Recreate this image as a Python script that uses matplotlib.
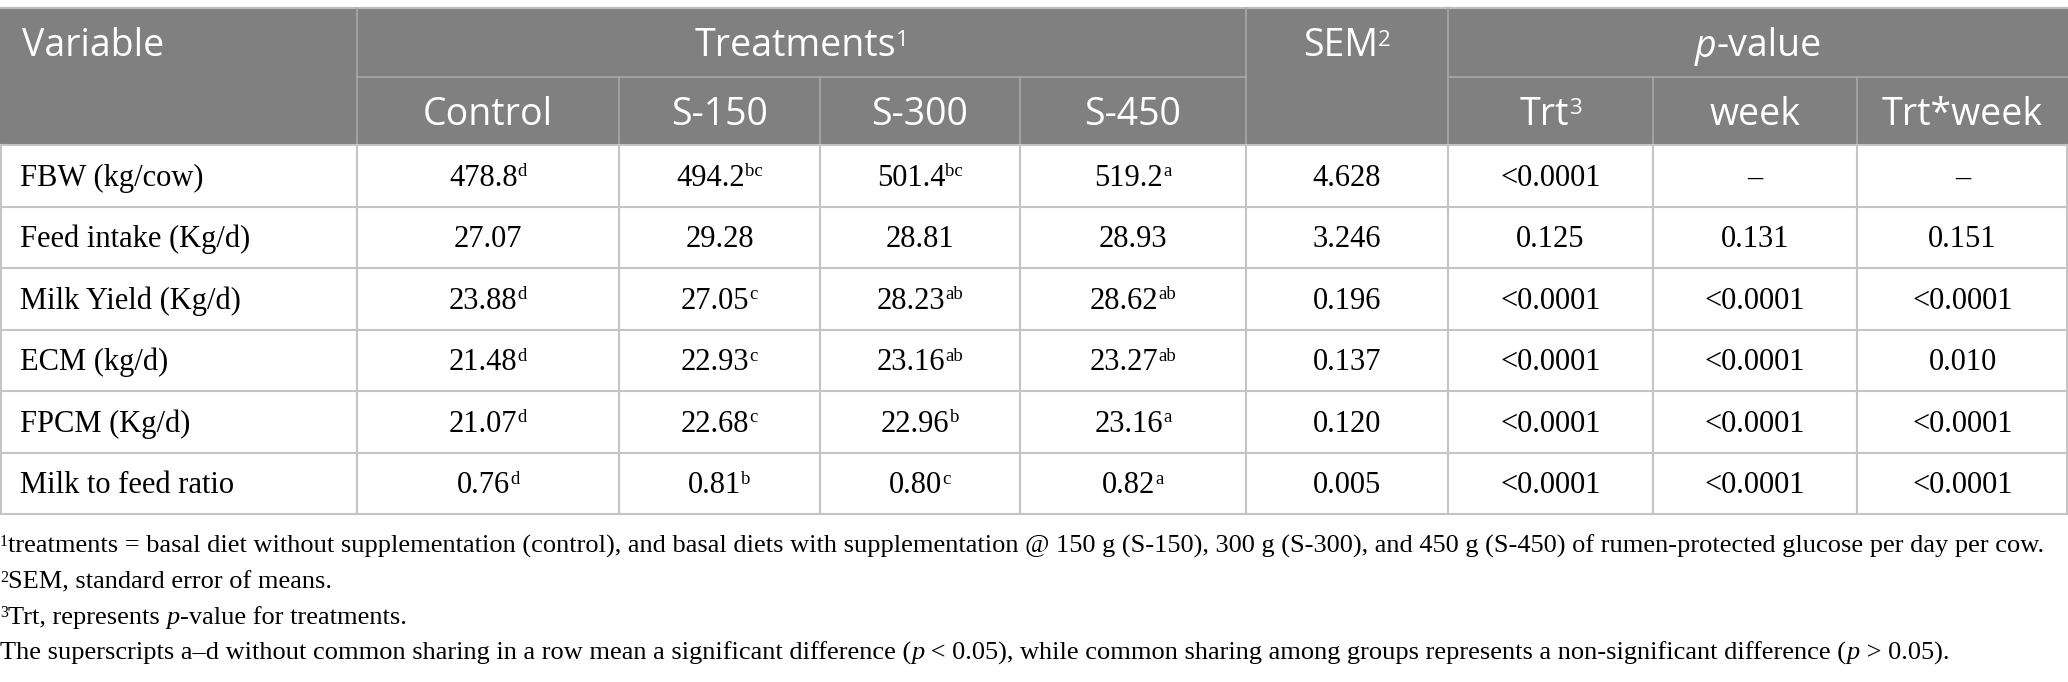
import matplotlib
matplotlib.use('Agg')
import matplotlib.pyplot as plt
from matplotlib.patches import Rectangle
from matplotlib.font_manager import FontProperties

# ---------------- data ----------------
variables = ["FBW (kg/cow)", "Feed intake (Kg/d)", "Milk Yield (Kg/d)",
             "ECM (kg/d)", "FPCM (Kg/d)", "Milk to feed ratio"]
treatments = ["Control", "S-150", "S-300", "S-450"]
means = [["478.8", "494.2", "501.4", "519.2"],
         ["27.07", "29.28", "28.81", "28.93"],
         ["23.88", "27.05", "28.23", "28.62"],
         ["21.48", "22.93", "23.16", "23.27"],
         ["21.07", "22.68", "22.96", "23.16"],
         ["0.76", "0.81", "0.80", "0.82"]]
letters = [["d", "bc", "bc", "a"],
           ["", "", "", ""],
           ["d", "c", "ab", "ab"],
           ["d", "c", "ab", "ab"],
           ["d", "c", "b", "a"],
           ["d", "b", "c", "a"]]
sem = ["4.628", "3.246", "0.196", "0.137", "0.120", "0.005"]
p_trt = ["<0.0001", "0.125", "<0.0001", "<0.0001", "<0.0001", "<0.0001"]
p_week = ["\u2013", "0.131", "<0.0001", "<0.0001", "<0.0001", "<0.0001"]
p_int = ["\u2013", "0.151", "<0.0001", "0.010", "<0.0001", "<0.0001"]
p_headers = ["Trt", "week", "Trt*week"]
p_header_sup = ["3", "", ""]

footnotes = [
    [("1", "sup"), ("treatments = basal diet without supplementation (control), and basal diets with supplementation @ 150 g (S-150), 300 g (S-300), and 450 g (S-450) of rumen-protected glucose per day per cow.", "rm")],
    [("2", "sup"), ("SEM, standard error of means.", "rm")],
    [("3", "sup"), ("Trt, represents ", "rm"), ("p", "it"), ("-value for treatments.", "rm")],
    [("The superscripts a\u2013d without common sharing in a row mean a significant difference (", "rm"), ("p", "it"),
     (" < 0.05), while common sharing among groups represents a non-significant difference (", "rm"), ("p", "it"), (" > 0.05).", "rm")],
]

# ---------------- layout ----------------
W, H = 2068, 682
col_widths = [357, 262, 201, 200, 226, 202, 205, 204, 211]
table_top = 8
h1, h2 = 69, 68
row_h = 61.5
header_color = "#808080"
grid_color = "#c4c4c4"
head_line = "#a8a8a8"

fig = plt.figure(figsize=(W / 100, H / 100), dpi=100)
ax = fig.add_axes([0, 0, 1, 1])
ax.set_xlim(0, W)
ax.set_ylim(H, 0)
ax.axis('off')
renderer = fig.canvas.get_renderer()

HEAD = FontProperties(family="Open Sans", size=27)
HEAD_IT = FontProperties(family="Open Sans", size=27, style="italic")
HEAD_SUP = FontProperties(family="Open Sans", size=16)
BODY = FontProperties(family="Liberation Serif", size=22)
BODY_SUP = FontProperties(family="Liberation Serif", size=13.5)
FOOT = FontProperties(family="Liberation Serif", size=19)
FOOT_IT = FontProperties(family="Liberation Serif", size=19, style="italic")
FOOT_SUP = FontProperties(family="Liberation Serif", size=11.5)


def width_of(s, fp):
    t = ax.text(0, 0, "|" + s + "|", fontproperties=fp)
    w1 = t.get_window_extent(renderer).width
    t.remove()
    t = ax.text(0, 0, "||", fontproperties=fp)
    w0 = t.get_window_extent(renderer).width
    t.remove()
    return w1 - w0


def draw_rich(x, y, segs, ha="left", color="black"):
    widths = [width_of(s, fp) for s, fp, r in segs]
    total = sum(widths)
    if ha == "center":
        x = x - total / 2
    for (s, fp, rise), w in zip(segs, widths):
        ax.text(x, y - rise, s, fontproperties=fp, color=color, va="baseline", ha="left")
        x += w


xs = [0]
for w in col_widths:
    xs.append(xs[-1] + w)
centers = [(xs[i] + xs[i + 1]) / 2 for i in range(len(col_widths))]

head_bottom = table_top + h1 + h2
table_bottom = head_bottom + row_h * len(variables)

# header background
ax.add_patch(Rectangle((0, table_top), W, h1 + h2, facecolor=header_color, edgecolor="none"))
ax.plot([0, W], [table_top, table_top], color="#bdbdbd", lw=1.5)

# header lines
mid = table_top + h1
ax.plot([xs[1], xs[5]], [mid, mid], color=head_line, lw=1.2)
ax.plot([xs[6], W], [mid, mid], color=head_line, lw=1.2)
for i in [1, 5, 6]:
    ax.plot([xs[i], xs[i]], [table_top, head_bottom], color=head_line, lw=1.2)
for i in [2, 3, 4, 7, 8]:
    ax.plot([xs[i], xs[i]], [mid, head_bottom], color=head_line, lw=1.2)

white = "white"
y1 = table_top + h1 / 2 + 14
y2 = mid + h2 / 2 + 14
draw_rich(22, y1, [("Variable", HEAD, 0)], color=white)
draw_rich((xs[1] + xs[5]) / 2, y1, [("Treatments", HEAD, 0), ("1", HEAD_SUP, 11)], ha="center", color=white)
draw_rich(centers[5], y1, [("SEM", HEAD, 0), ("2", HEAD_SUP, 11)], ha="center", color=white)
draw_rich((xs[6] + W) / 2, y1, [("p", HEAD_IT, 0), ("-value", HEAD, 0)], ha="center", color=white)
for j, name in enumerate(treatments):
    draw_rich(centers[1 + j], y2, [(name, HEAD, 0)], ha="center", color=white)
for j, name in enumerate(p_headers):
    segs = [(name, HEAD, 0)]
    if p_header_sup[j]:
        segs.append((p_header_sup[j], HEAD_SUP, 11))
    draw_rich(centers[6 + j], y2, segs, ha="center", color=white)

# body grid
for i in range(len(variables) + 1):
    y = head_bottom + row_h * i
    ax.plot([0, W], [y, y], color=grid_color, lw=1.5)
for i in range(len(xs)):
    x = min(max(xs[i], 0.75), W - 0.75)
    ax.plot([x, x], [head_bottom, table_bottom], color=grid_color, lw=1.5)

# body text
for r, var in enumerate(variables):
    yb = head_bottom + row_h * r + row_h / 2 + 10
    draw_rich(20, yb, [(var, BODY, 0)])
    for j in range(4):
        segs = [(means[r][j], BODY, 0)]
        if letters[r][j]:
            segs.append((letters[r][j], BODY_SUP, 9.5))
        draw_rich(centers[1 + j], yb, segs, ha="center")
    for c, val in zip([5, 6, 7, 8], [sem[r], p_trt[r], p_week[r], p_int[r]]):
        draw_rich(centers[c], yb, [(val, BODY, 0)], ha="center")

# footnotes
style_map = {"rm": (FOOT, 0), "it": (FOOT_IT, 0), "sup": (FOOT_SUP, 7)}
foot_y0 = 553
foot_dy = 35.5
for k, line in enumerate(footnotes):
    segs = [(s, style_map[st][0], style_map[st][1]) for s, st in line]
    draw_rich(0, foot_y0 + foot_dy * k, segs)

fig.savefig("out.png", dpi=100, facecolor="white")
